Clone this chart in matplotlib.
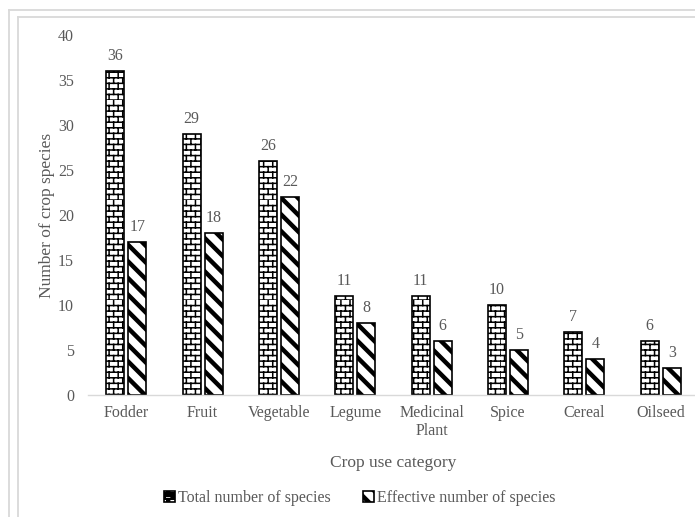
import warnings
import numpy as np
import matplotlib
matplotlib.use('Agg')
import matplotlib.pyplot as plt
import matplotlib.hatch as mhatch
from matplotlib.path import Path
from matplotlib.lines import Line2D

warnings.filterwarnings('ignore')

categories = ['Fodder', 'Fruit', 'Vegetable', 'Legume', 'Medicinal\nPlant',
              'Spice', 'Cereal', 'Oilseed']
total_species = [36, 29, 26, 11, 11, 10, 7, 6]
effective_species = [17, 18, 22, 8, 6, 5, 4, 3]
yticks = [0, 5, 10, 15, 20, 25, 30, 35, 40]


# brick hatch ('B'), not available in matplotlib by default
class BrickHatch(mhatch.HatchPatternBase):
    def __init__(self, hatch, density):
        self.rows = hatch.count('B') * density
        if self.rows % 2:
            self.rows += 1
        self.cols = int(round(self.rows * 0.62))
        self.num_vertices = (self.rows * 2 + self.rows * self.cols * 2) if self.rows else 0

    def set_vertices_and_codes(self, vertices, codes):
        k = 0
        for i in range(self.rows):
            y = i / self.rows
            vertices[k] = (0, y)
            vertices[k + 1] = (1, y)
            codes[k] = Path.MOVETO
            codes[k + 1] = Path.LINETO
            k += 2
        for i in range(self.rows):
            y0 = i / self.rows
            y1 = (i + 1) / self.rows
            shift = 0.5 * (i % 2)
            for j in range(self.cols):
                x = (j + shift) / self.cols
                vertices[k] = (x, y0)
                vertices[k + 1] = (x, y1)
                codes[k] = Path.MOVETO
                codes[k + 1] = Path.LINETO
                k += 2


mhatch._hatch_types.append(BrickHatch)

gray = '#595959'
plt.rcParams['font.family'] = ['Liberation Serif', 'DejaVu Serif']
plt.rcParams['font.size'] = 11.5
plt.rcParams['text.color'] = gray

fig = plt.figure(figsize=(6.95, 5.17), dpi=100)
ax = fig.add_axes([0.1266, 0.236, 0.879, 0.696])

x = np.arange(len(categories))
w = 0.236
off = 0.144

plt.rcParams['hatch.linewidth'] = 1.1
b1 = ax.bar(x - off, total_species, w, color='white', edgecolor='black',
            linewidth=1.2, hatch='BBB', label='Total number of species')
plt.rcParams['hatch.linewidth'] = 3.2
b2 = ax.bar(x + off, effective_species, w, color='white', edgecolor='black',
            linewidth=1.2, hatch='\\\\', label='Effective number of species')

for bars, vals in [(b1, total_species), (b2, effective_species)]:
    for rect, v in zip(bars, vals):
        ax.annotate(str(v), (rect.get_x() + rect.get_width() / 2, v),
                    xytext=(0, 5), textcoords='offset points',
                    ha='center', va='bottom', color=gray)

ax.set_xlim(-0.5, len(categories) - 0.5)
ax.set_ylim(0, 40)
ax.set_yticks(yticks)
ax.set_xticks(x)
ax.set_xticklabels(categories, linespacing=1.15)
ax.tick_params(axis='both', length=0, colors=gray, labelsize=11.5)
ax.tick_params(axis='y', pad=10)
ax.tick_params(axis='x', pad=7)
for s in ['top', 'right', 'left']:
    ax.spines[s].set_visible(False)
ax.spines['bottom'].set_color('#d9d9d9')
ax.spines['bottom'].set_linewidth(1.0)

ax.set_ylabel('Number of crop species', color=gray, fontsize=12.5, labelpad=2)
ax.set_xlabel('Crop use category', color=gray, fontsize=12.5, labelpad=12)

fig.legend(handles=[b1, b2], loc='center', bbox_to_anchor=(0.518, 0.036),
           ncol=2, frameon=False, handlelength=0.7, handleheight=0.7,
           handletextpad=0.2, columnspacing=2.0, fontsize=11.5)

# chart frame lines (light gray, top and left)
W, H = 695.0, 517.0
for px, py in [(8.5, 9.5), (18.0, 16.8)]:
    fig.add_artist(Line2D([px / W, px / W], [0, 1 - py / H], color='#d9d9d9', lw=1.3,
                          transform=fig.transFigure))
    fig.add_artist(Line2D([px / W, 1], [1 - py / H, 1 - py / H], color='#d9d9d9', lw=1.3,
                          transform=fig.transFigure))

fig.savefig('out.png', dpi=100)
